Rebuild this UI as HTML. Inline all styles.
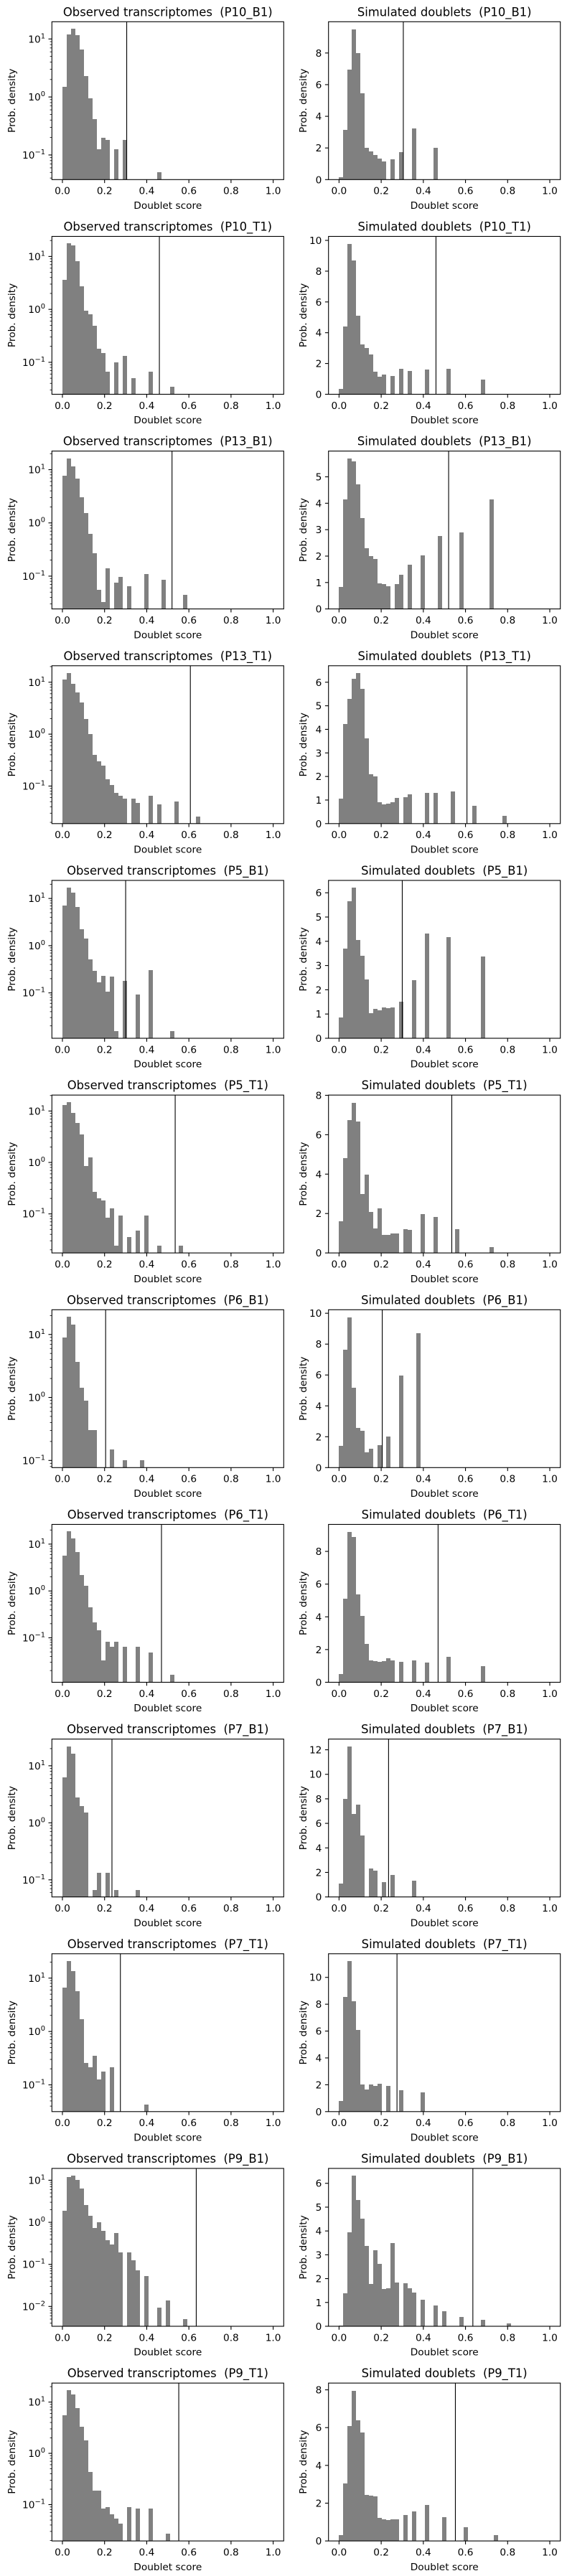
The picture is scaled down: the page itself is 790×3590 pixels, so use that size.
<!DOCTYPE html>
<html><head><meta charset="utf-8">
<style>
html,body{margin:0;padding:0;background:#fff;}
svg{display:block;font-family:"DejaVu Sans","Liberation Sans",sans-serif;}
svg text{white-space:pre;}
</style></head>
<body>
<svg id="fig" xmlns="http://www.w3.org/2000/svg" width="790" height="3590" viewBox="0 0 790 3590" xml:space="preserve"></svg>
<script>
const sampleNames = ["P10_B1","P10_T1","P13_B1","P13_T1","P5_B1","P5_T1","P6_B1","P6_T1","P7_B1","P7_T1","P9_B1","P9_T1"];
const thresholds = [0.305,0.46,0.52,0.607,0.30,0.535,0.205,0.47,0.235,0.275,0.635,0.552];
const observed_P10_B1 = [1.49,12,14.9,11.5,6.5,2.3,0.96,0.42,0.125,0.2,0.18,0,0.125,0,0.18,0,0,0,0,0,0,0,0.05];
const simulated_P10_B1 = [0.15,3.14,6.97,9.5,8.0,5.45,2.0,1.8,1.56,1.33,1.14,0,1.3,0,1.75,0,0,3.23,0,0,0,0,2.0];
const observed_P10_T1 = [3.6,17.5,16,8.1,2.76,0.95,0.81,0.49,0.18,0.15,0.066,0,0.1,0,0.133,0,0.05,0,0,0,0.066,0,0,0,0,0.034];
const simulated_P10_T1 = [0.35,4.4,9.77,8.7,5.1,3.24,3.0,2.58,1.48,1.14,1.28,0,1.19,0,1.64,0,1.51,0,0,0,1.62,0,0,0,0,1.64,0,0,0,0,0,0,0,0.96];
const observed_P13_B1 = [7.6,16.4,11.7,6.9,3.07,1.55,0.62,0.27,0.055,0.033,0.14,0,0.076,0.097,0,0.065,0,0,0,0.11,0,0,0,0.086,0,0,0,0,0.044];
const simulated_P13_B1 = [0.82,4.14,5.69,5.59,4.72,3.43,2.29,2.0,1.88,0.98,0.93,0.85,0,0.95,1.28,0,1.68,0,0,2.03,0,0,0,2.76,0,0,0,0,2.9,0,0,0,0,0,0,4.14];
const observed_P13_T1 = [11.3,15.1,9.4,6.3,4.05,1.96,1.0,0.4,0.3,0.245,0.134,0.104,0.075,0.064,0.058,0,0.058,0.048,0,0,0.065,0,0.045,0,0,0,0.05,0,0,0,0,0.026];
const simulated_P13_T1 = [1.07,4.24,5.28,6.16,6.38,5.71,3.61,2.1,2.0,0.92,0.83,0.86,0.91,1.1,0,1.12,1.25,0,0,0,1.31,0,1.29,0,0,0,1.37,0,0,0,0,0.77,0,0,0,0,0,0,0.32];
const observed_P5_B1 = [7.2,17,13.4,6.5,2.25,1.4,0.51,0.29,0.166,0.23,0.106,0.225,0.0155,0,0.18,0,0,0.091,0,0,0.3,0,0,0,0,0.0155];
const simulated_P5_B1 = [0.85,3.7,5.64,6.2,4.04,3.4,2.42,1.04,1.21,1.15,1.26,1.24,1.26,0,1.5,0,0,2.4,0,0,4.31,0,0,0,0,4.17,0,0,0,0,0,0,0,3.36];
const observed_P5_T1 = [13.2,14.8,9.3,5.9,3.5,0.86,1.26,0.27,0.2,0.18,0.084,0.128,0.024,0.094,0,0.035,0,0.047,0,0.093,0,0,0.024,0,0,0,0,0.024];
const simulated_P5_T1 = [1.6,4.81,6.73,7.63,6.66,2.98,3.99,2.08,1.25,2.25,0.9,0.9,0.97,1.0,0,1.22,1.18,0,0,1.97,0,0,1.83,0,0,0,0,1.19,0,0,0,0,0,0,0,0.28];
const observed_P6_B1 = [8.9,19,14.5,3.67,1.42,0.89,0.3,0.3,0,0,0,0.15,0,0,0.1,0,0,0,0.1];
const simulated_P6_B1 = [1.41,7.62,9.74,5.16,2.57,2.38,0.99,1.23,0,1.46,0,1.99,0,0,5.95,0,0,0,8.71];
const observed_P6_T1 = [5.7,18.5,13.3,6.8,2.2,1.3,0.44,0.21,0.145,0.033,0.081,0.064,0.081,0,0.064,0,0,0.064,0,0,0.049,0,0,0,0,0.016];
const simulated_P6_T1 = [0.5,5.12,9.19,8.9,5.38,4.06,2.33,1.34,1.29,1.26,1.29,1.47,1.32,0,1.26,0,0,1.34,0,0,1.2,0,0,0,0,1.54,0,0,0,0,0,0,0,0.99];
const observed_P7_B1 = [6.3,22,16.1,2.8,1.96,1.52,0,0.067,0.133,0,0.133,0,0.067,0,0,0,0,0.067];
const simulated_P7_B1 = [1.1,7.98,12.26,6.76,7.54,5.01,0,2.33,2.17,0,1.22,0,1.8,0,0,0,0,1.33];
const observed_P7_T1 = [6.7,21,13.6,5.6,1.72,0.26,0.215,0.35,0.128,0.176,0,0.215,0,0,0,0,0,0,0,0.043];
const simulated_P7_T1 = [0.81,8.52,11.2,8.2,6.1,2.03,1.63,2.01,1.93,2.07,0,1.91,0,0,1.59,0,0,0,0,1.42];
const observed_P9_B1 = [1.9,12,12.9,10.3,6.4,2.6,1.41,0.72,1.0,0.62,0.38,0.3,0.56,0.19,0,0.19,0.126,0.073,0,0.053,0,0,0.0094,0,0.014,0,0,0,0.005];
const simulated_P9_B1 = [0.03,1.37,3.94,6.31,5.31,4.51,3.37,1.77,3.2,2.63,1.57,1.59,3.49,1.83,0,1.8,1.6,1.41,0,1.11,0,0,0.86,0,0.63,0,0,0,0.4,0,0,0,0,0.26,0,0,0,0,0,0.11];
const observed_P9_T1 = [5.5,17,14,7.6,3.3,1.77,0.44,0.19,0.19,0.083,0.09,0.064,0.054,0.043,0,0.09,0,0.083,0,0,0.083,0,0,0,0.027];
const simulated_P9_T1 = [0.31,3.05,6.1,7.96,6.4,5.73,2.43,2.39,2.37,1.22,1.16,1.11,1.13,1.13,0,1.37,0,1.56,0,0,1.89,0,0,0,1.26,0,0,0,0,0.72,0,0,0,0,0,0,0.31];
const observedSeries = [observed_P10_B1,observed_P10_T1,observed_P13_B1,observed_P13_T1,observed_P5_B1,observed_P5_T1,observed_P6_B1,observed_P6_T1,observed_P7_B1,observed_P7_T1,observed_P9_B1,observed_P9_T1];
const simulatedSeries = [simulated_P10_B1,simulated_P10_T1,simulated_P13_B1,simulated_P13_T1,simulated_P5_B1,simulated_P5_T1,simulated_P6_B1,simulated_P6_T1,simulated_P7_B1,simulated_P7_T1,simulated_P9_B1,simulated_P9_T1];
const xTickLabels = ["0.0","0.2","0.4","0.6","0.8","1.0"];
const numBins = 49;

const NS = "http://www.w3.org/2000/svg";
const svg = document.getElementById("fig");
const ROW_H = 3590/12;
const AX_W = 323, AX_TOP = 30.3, AX_BOT = 250.3;
const LEFT_X = 72.3, RIGHT_X = 457.7;
const FS = 13.7, TFS = 16.4, MAJ = 4.8, MIN = 2.7;

function el(tag, attrs, parent) {
  const e = document.createElementNS(NS, tag);
  for (const k in attrs) e.setAttribute(k, attrs[k]);
  (parent || svg).appendChild(e);
  return e;
}

function drawPanel(row, isLog, values, thr, title) {
  const x0 = isLog ? LEFT_X : RIGHT_X;
  const yTop = row*ROW_H + AX_TOP, yBot = row*ROW_H + AX_BOT;
  const g = el("g", {});
  
  
  const xs = v => x0 + (v + 0.05) / 1.1 * AX_W;
  let ys, lo, hi;
  const pos = values.filter(v => v > 0);
  if (isLog) {
    const lmin = Math.log10(Math.min(...pos)), lmax = Math.log10(Math.max(...pos));
    const m = (lmax - lmin) * 0.05;
    lo = lmin - m; hi = lmax + m;
    ys = v => yBot - (Math.log10(v) - lo) / (hi - lo) * (yBot - yTop);
  } else {
    lo = 0; hi = Math.max(...values) * 1.05;
    ys = v => yBot - (v - lo) / (hi - lo) * (yBot - yTop);
  }
  const bars = el("g", {"shape-rendering": "crispEdges"}, g);
  
  
  const bw = 1 / numBins;
  const yb = Math.round(yBot);
  values.forEach((v, i) => {
    if (!(v > 0)) return;
    const xa = Math.round(xs(i * bw)), xb = Math.round(xs((i + 1) * bw));
    const yv = Math.round(ys(v));
    const r = el("rect", {x: xa, y: yv, width: xb - xa, height: yb - yv, fill: "#808080"}, bars);
    
    
  });
  const tl = el("line", {x1: xs(thr), x2: xs(thr), y1: yTop, y2: yBot, stroke: "#000", "stroke-width": 1.1}, g);
  
  
  const fr = el("rect", {x: x0, y: yTop, width: AX_W, height: yBot - yTop, fill: "none", stroke: "#000", "stroke-width": 1.1}, g);
  
  
  xTickLabels.forEach(lbl => {
    const v = parseFloat(lbl);
    el("line", {x1: xs(v), x2: xs(v), y1: yBot, y2: yBot + MAJ, stroke: "#000", "stroke-width": 1.1}, g);
    const t = el("text", {x: xs(v), y: yBot + 20.3, "font-size": FS, "text-anchor": "middle", fill: "#000"}, g);
    t.textContent = lbl;
    
    
  });
  const labelX = x0 - MAJ - 4.5;
  if (isLog) {
    for (let k = Math.floor(lo); k <= Math.ceil(hi); k++) {
      for (let m = 1; m <= 9; m++) {
        const lv = k + Math.log10(m);
        if (lv < lo || lv > hi) continue;
        const yy = ys(Math.pow(10, lv));
        el("line", {x1: x0 - (m === 1 ? MAJ : MIN), x2: x0, y1: yy, y2: yy, stroke: "#000", "stroke-width": m === 1 ? 1.1 : 0.8}, g);
        if (m === 1) {
          const t = el("text", {x: labelX, y: yy + 5, "font-size": FS, "text-anchor": "end", fill: "#000"}, g);
          const ex = (k < 0 ? "\u2212" : "") + Math.abs(k);
          t.innerHTML = '10<tspan dy="-6" font-size="' + (FS*0.72).toFixed(1) + '">' + ex + '</tspan>';
          
          
        }
      }
    }
  } else {
    let step = 1;
    for (const s of [1, 2, 2.5, 5, 10]) { if (Math.floor(hi / s) + 1 <= 8) { step = s; break; } }
    for (let v = 0; v <= hi + 1e-9; v += step) {
      const yy = ys(v);
      el("line", {x1: x0 - MAJ, x2: x0, y1: yy, y2: yy, stroke: "#000", "stroke-width": 1.1}, g);
      const t = el("text", {x: labelX, y: yy + 5, "font-size": FS, "text-anchor": "end", fill: "#000"}, g);
      t.textContent = String(v);
      
      
    }
  }
  const cx = x0 + AX_W / 2;
  const tt = el("text", {x: cx, y: row*ROW_H + 22.3, "font-size": TFS, "text-anchor": "middle", fill: "#000"}, g);
  tt.textContent = title;
  
  
  const xl = el("text", {x: cx, y: row*ROW_H + 291, "font-size": FS, "text-anchor": "middle", fill: "#000"}, g);
  xl.textContent = "Doublet score";
  
  
  const yc = (yTop + yBot) / 2;
  const ylx = isLog ? 21 : 427;
  const yl = el("text", {x: ylx, y: yc, "font-size": FS, "text-anchor": "middle", fill: "#000", transform: "rotate(-90 " + ylx + " " + yc + ")"}, g);
  yl.textContent = "Prob. density";
  
  
}

for (let r = 0; r < 12; r++) {
  drawPanel(r, true, observedSeries[r], thresholds[r], "Observed transcriptomes\u00a0\u00a0(" + sampleNames[r] + ")");
  drawPanel(r, false, simulatedSeries[r], thresholds[r], "Simulated doublets\u00a0\u00a0(" + sampleNames[r] + ")");
}
</script>
</body></html>
